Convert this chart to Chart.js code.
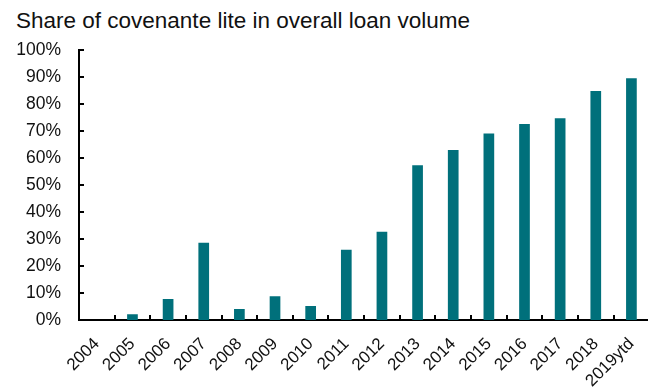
<!DOCTYPE html>
<html lang="en">
<head>
  <meta charset="UTF-8">
  <title>Covenant lite share</title>
  <script src="https://cdn.jsdelivr.net/npm/chart.js"></script>
  <style>
    * { margin: 0; padding: 0; box-sizing: border-box; }
    body { background: #fff; width: 648px; height: 392px; overflow: hidden; position: relative; }
    .title { position: absolute; left: 16px; top: 8px; font-family: 'Liberation Sans', sans-serif; font-size: 22.5px; color: #111; white-space: nowrap; }
    .wrap { position: absolute; left: 0; top: 0; width: 660px; height: 392px; }
  </style>
</head>
<body>
  <div class="title">Share of covenante lite in overall loan volume</div>
  <div class="wrap"><canvas id="chart"></canvas></div>

  <script>
    // Data (percent of loan volume)
    const years = ['2004', '2005', '2006', '2007', '2008', '2009', '2010', '2011',
                   '2012', '2013', '2014', '2015', '2016', '2017', '2018', '2019ytd'];
    const covLiteShare = [0, 2.1, 7.8, 28.6, 4.1, 8.8, 5.2, 26, 32.7, 57.3, 63, 69.1, 72.6, 74.7, 84.8, 89.5];
    const yTicks = [0, 10, 20, 30, 40, 50, 60, 70, 80, 90, 100];

    const barColor = '#00707b';

    // small tick marks pointing into the plot, like the original
    const innerTicks = {
      id: 'innerTicks',
      afterDatasetsDraw(chart) {
        const { ctx, chartArea, scales } = chart;
        ctx.save();
        ctx.strokeStyle = '#000';
        ctx.lineWidth = 2;
        ctx.beginPath();
        yTicks.forEach(v => {
          const y = Math.round(scales.y.getPixelForValue(v));
          ctx.moveTo(chartArea.left, y);
          ctx.lineTo(chartArea.left + 5, y);
        });
        for (let i = 1; i < years.length; i++) {
          const x = Math.round((scales.x.getPixelForValue(i - 1) + scales.x.getPixelForValue(i)) / 2);
          ctx.moveTo(x, chartArea.bottom);
          ctx.lineTo(x, chartArea.bottom - 5);
        }
        ctx.stroke();
        ctx.restore();
      }
    };

    new Chart(document.getElementById('chart'), {
      type: 'bar',
      data: {
        labels: years,
        datasets: [{
          data: covLiteShare,
          backgroundColor: barColor,
          barPercentage: 0.3,
          categoryPercentage: 1
        }]
      },
      options: {
        responsive: true,
        maintainAspectRatio: false,
        animation: false,
        layout: { padding: { top: 50, right: 5, left: 0, bottom: 0 } },
        plugins: { legend: { display: false }, tooltip: { enabled: false } },
        scales: {
          x: {
            afterFit(scale) { scale.height = 72; },
            grid: { display: false, drawTicks: false },
            border: { color: '#000', width: 2 },
            ticks: {
              autoSkip: false,
              maxRotation: 45,
              minRotation: 45,
              padding: 14,
              color: '#111',
              font: { family: 'Liberation Sans', size: 17 }
            }
          },
          y: {
            min: 0,
            max: 100,
            afterFit(scale) { scale.width = 79; },
            afterBuildTicks(scale) { scale.ticks = yTicks.map(v => ({ value: v })); },
            grid: { display: false, drawTicks: false },
            border: { color: '#000', width: 2 },
            ticks: {
              padding: 18,
              color: '#111',
              font: { family: 'Liberation Sans', size: 17.5 },
              callback: v => v + '%'
            }
          }
        }
      },
      plugins: [innerTicks]
    });
  </script>
</body>
</html>
